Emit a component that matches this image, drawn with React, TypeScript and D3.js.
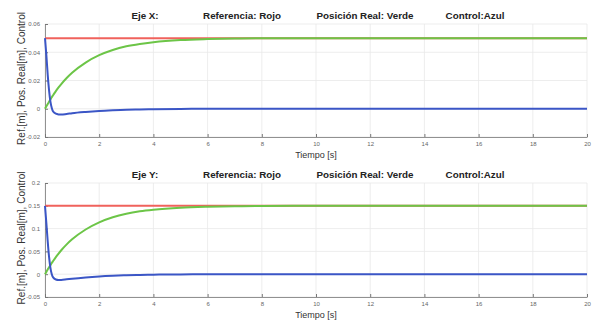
import { useEffect, useRef } from "react";
import * as d3 from "d3";

// time samples (s)
const tX = [0, 0.05, 0.1, 0.15, 0.2, 0.25, 0.3, 0.4, 0.5, 0.6, 0.8, 1, 1.5, 2, 2.5, 3, 3.5, 4, 5, 6, 7, 8, 10, 14, 20];

// Eje X
const refX = [0.05, 0.05, 0.05, 0.05, 0.05, 0.05, 0.05, 0.05, 0.05, 0.05, 0.05, 0.05, 0.05, 0.05, 0.05, 0.05, 0.05, 0.05, 0.05, 0.05, 0.05, 0.05, 0.05, 0.05, 0.05];
const posX = [0, 0.0017, 0.0034, 0.005, 0.0066, 0.0082, 0.0096, 0.0125, 0.0151, 0.0175, 0.0218, 0.0255, 0.0327, 0.0379, 0.0416, 0.0442, 0.0459, 0.0471, 0.0486, 0.0493, 0.0497, 0.0499, 0.05, 0.05, 0.05];
const ctrlX = [0.05, 0.038, 0.024, 0.013, 0.005, 0.0005, -0.002, -0.0035, -0.004, -0.0041, -0.0037, -0.0032, -0.0023, -0.0016, -0.0011, -0.0007, -0.0005, -0.0003, -0.0001, 0, 0, 0, 0, 0, 0];

// Eje Y
const refY = [0.15, 0.15, 0.15, 0.15, 0.15, 0.15, 0.15, 0.15, 0.15, 0.15, 0.15, 0.15, 0.15, 0.15, 0.15, 0.15, 0.15, 0.15, 0.15, 0.15, 0.15, 0.15, 0.15, 0.15, 0.15];
const posY = [0, 0.005, 0.0102, 0.015, 0.0198, 0.0246, 0.029, 0.0375, 0.0453, 0.0525, 0.0654, 0.0765, 0.098, 0.1137, 0.1248, 0.1325, 0.1378, 0.1414, 0.1458, 0.1479, 0.149, 0.1496, 0.15, 0.15, 0.15];
const ctrlY = [0.15, 0.112, 0.072, 0.038, 0.014, 0.0, -0.007, -0.0115, -0.0125, -0.0125, -0.0112, -0.0098, -0.007, -0.0049, -0.0034, -0.0023, -0.0015, -0.001, -0.0004, -0.0001, 0, 0, 0, 0, 0];

const xTicks = [0, 2, 4, 6, 8, 10, 12, 14, 16, 18, 20];
const yTicksX = [-0.02, 0, 0.02, 0.04, 0.06];
const yTicksY = [-0.05, 0, 0.05, 0.1, 0.15, 0.2];

const panels = [
  { eje: "Eje X:", top: 24, bottom: 137, domain: [-0.02, 0.06], ticks: yTicksX, ref: refX, pos: posX, ctrl: ctrlX },
  { eje: "Eje Y:", top: 183, bottom: 297, domain: [-0.05, 0.2], ticks: yTicksY, ref: refY, pos: posY, ctrl: ctrlY },
];

const App = () => {
  const ref = useRef<SVGSVGElement | null>(null);

  useEffect(() => {
    const svg = d3.select(ref.current);
    svg.selectAll("*").remove();

    const LEFT = 45;
    const RIGHT = 587;
    const x = d3.scaleLinear().domain([0, 20]).range([LEFT, RIGHT]);

    panels.forEach((p) => {
      const y = d3.scaleLinear().domain(p.domain).range([p.bottom, p.top]);
      const g = svg.append("g");

      // grid
      g.selectAll(".gx")
        .data(xTicks)
        .enter()
        .append("line")
        .attr("x1", (d) => x(d))
        .attr("x2", (d) => x(d))
        .attr("y1", p.top)
        .attr("y2", p.bottom)
        .attr("stroke", "#e8e8e8")
        .attr("stroke-width", 0.8);
      g.selectAll(".gy")
        .data(p.ticks)
        .enter()
        .append("line")
        .attr("x1", LEFT)
        .attr("x2", RIGHT)
        .attr("y1", (d) => y(d))
        .attr("y2", (d) => y(d))
        .attr("stroke", "#e8e8e8")
        .attr("stroke-width", 0.8);

      // axes
      const xAxis = d3.axisBottom(x).tickValues(xTicks).tickSizeInner(-3).tickSizeOuter(0).tickPadding(5).tickFormat(d3.format("d"));
      const gx = g.append("g").attr("transform", `translate(0, ${p.bottom})`).call(xAxis);
      const yAxis = d3
        .axisLeft(y)
        .tickValues(p.ticks)
        .tickSizeInner(-3)
        .tickSizeOuter(0)
        .tickPadding(5)
        .tickFormat((d) => (d === 0 ? "0" : String(+(+d).toFixed(2))));
      const gy = g.append("g").attr("transform", `translate(${LEFT}, 0)`).call(yAxis);
      [gx, gy].forEach((a) => {
        a.select(".domain").attr("stroke", "#777").attr("stroke-width", 0.8);
        a.selectAll("line").attr("stroke", "#777");
        a.selectAll("text").attr("fill", "#666").attr("font-size", "6px").attr("font-family", "Liberation Sans, Arial, sans-serif");
      });

      const line = (vals: number[]) =>
        d3
          .line<number>()
          .x((_, i) => x(tX[i]))
          .y((d) => y(d))
          .curve(d3.curveMonotoneX)(vals);

      g.append("path").attr("d", line(p.ref)).attr("fill", "none").attr("stroke", "#f0625c").attr("stroke-width", 2);
      g.append("path").attr("d", line(p.pos)).attr("fill", "none").attr("stroke", "#6cc547").attr("stroke-width", 2);
      g.append("path").attr("d", line(p.ctrl)).attr("fill", "none").attr("stroke", "#3b56c6").attr("stroke-width", 2);

      // title
      const titles = [
        { t: p.eje, cx: 145 },
        { t: "Referencia: Rojo", cx: 242 },
        { t: "Posición Real: Verde", cx: 365 },
        { t: "Control:Azul", cx: 475 },
      ];
      g.selectAll(".title")
        .data(titles)
        .enter()
        .append("text")
        .attr("x", (d) => d.cx)
        .attr("y", p.top - 5)
        .attr("text-anchor", "middle")
        .attr("font-family", "Liberation Sans, Arial, sans-serif")
        .attr("font-weight", "bold")
        .attr("font-size", "9.8px")
        .attr("fill", "#222")
        .text((d) => d.t);

      // x label
      g.append("text")
        .attr("x", (LEFT + RIGHT) / 2)
        .attr("y", p.bottom + 21)
        .attr("text-anchor", "middle")
        .attr("font-family", "Liberation Sans, Arial, sans-serif")
        .attr("font-size", "9px")
        .attr("fill", "#333")
        .text("Tiempo [s]");

      // y label
      g.append("text")
        .attr("transform", `translate(25, ${(p.top + p.bottom) / 2 - 2}) rotate(-90)`)
        .attr("text-anchor", "middle")
        .attr("font-family", "Liberation Sans, Arial, sans-serif")
        .attr("font-size", "10px")
        .attr("fill", "#333")
        .text("Ref.[m], Pos. Real[m], Control");
    });
  }, []);

  return (
    <svg
      ref={ref}
      width={596}
      height={322}
      style={{ position: "absolute", left: 0, top: 0, background: "#fff" }}
    />
  );
};

export default App;
